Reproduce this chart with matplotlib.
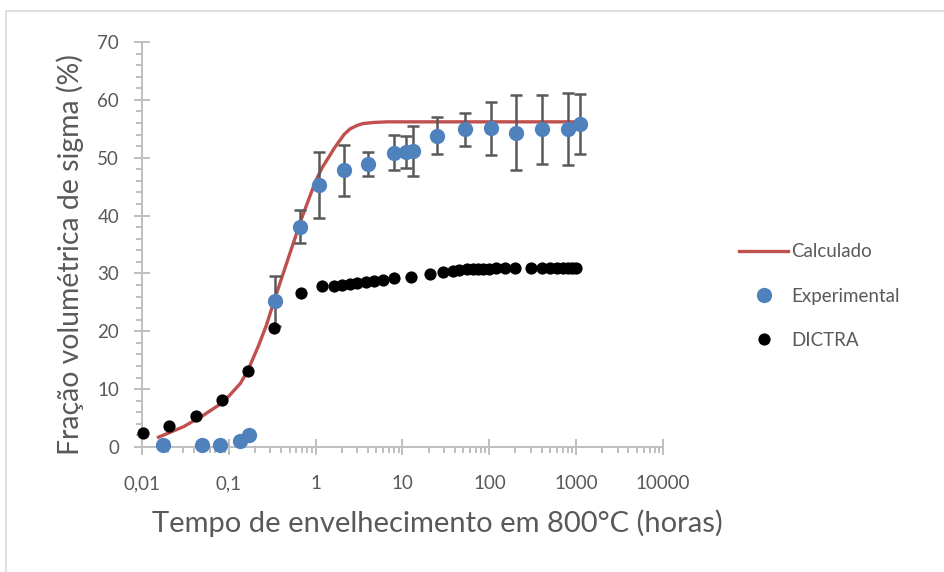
import matplotlib
matplotlib.use("Agg")
import matplotlib.pyplot as plt
from matplotlib.patches import Rectangle
from matplotlib.ticker import FixedLocator, NullFormatter

plt.rcParams['font.family'] = ['Lato', 'DejaVu Sans']

# Calculated sigma fraction (model curve)
calc_t = [0.0155, 0.03, 0.05, 0.087, 0.136, 0.165, 0.19, 0.221, 0.27, 0.345, 0.49, 0.70,
          1.0, 1.2, 1.43, 1.63, 2.12, 2.5, 3.03, 3.5, 4.7, 6.7, 20, 100, 1000]
calc_y = [1.7, 3.5, 5.4, 7.8, 11.0, 13.2, 15.3, 17.6, 21.0, 26.0, 32.9, 39.8,
          46.0, 48.4, 50.2, 51.6, 54.0, 55.0, 55.6, 55.9, 56.1, 56.2, 56.2, 56.2, 56.2]

# Experimental measurements with error (half-width)
exp_t = [0.0174, 0.049, 0.08, 0.133, 0.17, 0.336, 0.66, 1.09, 2.12, 4.0,
         8.06, 10.9, 13.1, 25, 53, 104, 204, 405, 810, 1120]
exp_y = [0.3, 0.3, 0.3, 1.0, 2.1, 25.2, 38.1, 45.3, 47.8, 48.9,
         50.9, 51.0, 51.2, 53.8, 54.9, 55.1, 54.3, 54.9, 54.9, 55.8]
exp_err = [0, 0, 0, 0, 0, 4.3, 2.9, 5.7, 4.4, 2.1,
           3.0, 2.8, 4.3, 3.2, 2.8, 4.6, 6.5, 5.9, 6.2, 5.2]

# DICTRA simulation
dic_t = [0.0103, 0.0207, 0.042, 0.083, 0.168, 0.327, 0.67, 1.17, 1.63, 2.0, 2.5,
         3.0, 3.8, 4.7, 5.9, 8.0, 12.5, 21, 29, 38, 45, 55, 65, 75, 85, 100,
         120, 150, 200, 300, 400, 500, 600, 700, 800, 900, 1000]
dic_y = [2.5, 3.6, 5.4, 8.2, 13.1, 20.6, 26.6, 27.8, 27.9, 28.0, 28.1,
         28.3, 28.5, 28.7, 28.9, 29.2, 29.4, 29.9, 30.2, 30.5, 30.6, 30.7, 30.7, 30.8, 30.8, 30.8,
         30.9, 30.9, 30.9, 30.9, 30.9, 30.9, 30.9, 30.9, 30.9, 30.9, 30.9]

x_ticks = [0.01, 0.1, 1, 10, 100, 1000, 10000]
x_tick_labels = ['0,01', '0,1', '1', '10', '100', '1000', '10000']
y_ticks = [0, 10, 20, 30, 40, 50, 60, 70]

RED = '#c0504d'
BLUE = '#4f81bd'
AXIS = '#bfbfbf'
TEXT = '#595959'

fig = plt.figure(figsize=(9.45, 5.72), dpi=100)
fig.patches.append(Rectangle((6 / 945, -0.1), 1.2, 1 - 11 / 572 + 0.1,
                             transform=fig.transFigure, fill=False,
                             edgecolor='#d9d9d9', linewidth=1.2))

ax = fig.add_axes([142 / 945, 1 - 447 / 572, (663 - 142) / 945, (447 - 42) / 572])

ax.plot(calc_t, calc_y, color=RED, lw=2.4, label='Calculado', zorder=2, clip_on=False)
ax.errorbar(exp_t, exp_y, yerr=exp_err, fmt='none', ecolor=TEXT, elinewidth=1.8,
            capsize=4, capthick=1.8, zorder=3)
ax.plot(exp_t, exp_y, 'o', color=BLUE, ms=11, mec='none', label='Experimental',
        zorder=4, clip_on=False)
ax.plot(dic_t, dic_y, 'o', color='black', ms=8.8, mec='none', label='DICTRA',
        zorder=5, clip_on=False)

ax.set_xscale('log')
ax.set_xlim(0.01, 10000)
ax.set_ylim(0, 70)
ax.xaxis.set_major_locator(FixedLocator(x_ticks))
ax.set_xticklabels(x_tick_labels)
ax.xaxis.set_minor_formatter(NullFormatter())
ax.set_yticks(y_ticks)
ax.yaxis.set_minor_locator(FixedLocator([v for v in range(0, 71, 2) if v % 10]))

for s in ['top', 'right']:
    ax.spines[s].set_visible(False)
for s in ['left', 'bottom']:
    ax.spines[s].set_color(AXIS)
    ax.spines[s].set_linewidth(1.4)

ax.tick_params(which='major', direction='inout', length=11, width=1.4, color=AXIS,
               labelcolor=TEXT, labelsize=13.5)
ax.tick_params(which='minor', direction='out', length=4.5, width=1.4, color=AXIS)
ax.tick_params(axis='x', which='major', pad=15)
ax.tick_params(axis='y', which='major', pad=11)

fig.text(437 / 945, 1 - 523 / 572, 'Tempo de envelhecimento em 800°C (horas)',
         ha='center', va='center', fontsize=21, color=TEXT)
fig.text(70 / 945, 1 - 255 / 572, 'Fração volumétrica de sigma (%)',
         ha='center', va='center', rotation=90, fontsize=20.4, color=TEXT)

leg = fig.legend(loc='upper left', bbox_to_anchor=(730 / 945, 1 - 234 / 572),
                 frameon=False, fontsize=13.5, labelcolor=TEXT, handlelength=2.6,
                 handletextpad=0.15, labelspacing=1.45, borderpad=0)

fig.savefig('out.png', dpi=100)
